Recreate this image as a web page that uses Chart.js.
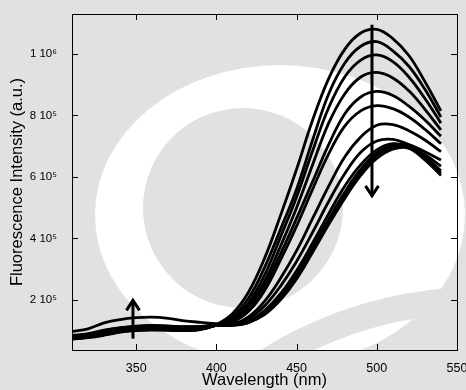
<!DOCTYPE html>
<html>
<head>
<meta charset="utf-8">
<script src="https://cdn.jsdelivr.net/npm/chart.js@4.4.1/dist/chart.umd.min.js"></script>
<style>
  html, body { margin: 0; padding: 0; background: #e1e1e1; }
  canvas { display: block; }
</style>
</head>
<body>
<canvas id="chart" width="466" height="390"></canvas>
<script>
/* global Chart */

// Emission spectra, intensities in units of 10^5 (a.u.)
const wavelengths = [310, 320, 330, 340, 350, 360, 370, 380, 390, 400, 410, 420, 430, 440, 450, 460, 470, 480, 490, 500, 510, 520, 530, 540];

const scan1  = [0.72, 0.77, 0.85, 0.95, 1.00, 1.02, 1.01, 1.00, 1.03, 1.20, 1.55, 2.25, 3.35, 4.75, 6.25, 7.85, 9.20, 10.15, 10.68, 10.80, 10.50, 9.95, 9.10, 8.15];
const scan2  = [0.73, 0.78, 0.87, 0.96, 1.02, 1.03, 1.02, 1.01, 1.04, 1.19, 1.45, 2.05, 3.05, 4.30, 5.60, 7.20, 8.70, 9.70, 10.25, 10.40, 10.10, 9.60, 8.85, 7.95];
const scan3  = [0.74, 0.79, 0.88, 0.98, 1.03, 1.05, 1.04, 1.03, 1.05, 1.18, 1.40, 1.90, 2.80, 4.05, 5.35, 6.85, 8.25, 9.25, 9.80, 9.97, 9.75, 9.25, 8.55, 7.75];
const scan4  = [0.75, 0.80, 0.90, 0.99, 1.05, 1.06, 1.05, 1.04, 1.06, 1.18, 1.35, 1.80, 2.60, 3.75, 5.00, 6.40, 7.75, 8.70, 9.25, 9.40, 9.22, 8.80, 8.20, 7.53];
const scan5  = [0.76, 0.82, 0.91, 1.01, 1.06, 1.08, 1.07, 1.06, 1.08, 1.17, 1.30, 1.70, 2.45, 3.50, 4.65, 5.85, 7.05, 8.05, 8.60, 8.78, 8.65, 8.30, 7.85, 7.32];
const scan6  = [0.78, 0.83, 0.93, 1.02, 1.08, 1.09, 1.08, 1.07, 1.09, 1.17, 1.28, 1.62, 2.30, 3.30, 4.40, 5.60, 6.75, 7.65, 8.15, 8.32, 8.22, 7.95, 7.55, 7.08];
const scan7  = [0.79, 0.84, 0.95, 1.04, 1.09, 1.11, 1.10, 1.08, 1.10, 1.17, 1.22, 1.45, 1.95, 2.70, 3.60, 4.65, 5.70, 6.65, 7.30, 7.68, 7.70, 7.50, 7.20, 6.82];
const scan8  = [0.80, 0.86, 0.96, 1.05, 1.11, 1.12, 1.11, 1.10, 1.11, 1.17, 1.20, 1.38, 1.80, 2.45, 3.25, 4.20, 5.20, 6.10, 6.80, 7.17, 7.22, 7.05, 6.82, 6.55];
const scan9  = [0.81, 0.87, 0.98, 1.07, 1.12, 1.14, 1.13, 1.11, 1.12, 1.17, 1.18, 1.30, 1.65, 2.20, 2.95, 3.85, 4.80, 5.70, 6.40, 6.88, 7.08, 7.00, 6.72, 6.35];
const scan10 = [0.83, 0.88, 1.00, 1.08, 1.14, 1.15, 1.14, 1.12, 1.13, 1.17, 1.17, 1.27, 1.58, 2.10, 2.80, 3.70, 4.62, 5.50, 6.25, 6.78, 7.02, 6.98, 6.65, 6.20];
const scan11 = [0.84, 0.90, 1.02, 1.10, 1.15, 1.17, 1.15, 1.13, 1.14, 1.18, 1.18, 1.26, 1.55, 2.05, 2.72, 3.62, 4.52, 5.40, 6.15, 6.70, 6.96, 6.95, 6.60, 6.12];
const scan12 = [0.97, 1.06, 1.25, 1.36, 1.42, 1.44, 1.40, 1.32, 1.27, 1.23, 1.20, 1.27, 1.52, 2.00, 2.68, 3.55, 4.45, 5.30, 6.05, 6.60, 6.90, 6.93, 6.55, 6.05];

const scans = [scan1, scan2, scan3, scan4, scan5, scan6, scan7, scan8, scan9, scan10, scan11, scan12];

const xTicks = [350, 400, 450, 500, 550];
const yTicks = [2, 4, 6, 8, 10];
const yTickLabels = ['2 10\u2075', '4 10\u2075', '6 10\u2075', '8 10\u2075', '1 10\u2076'];

// titration arrows: wavelength, start and end intensity
const arrowX = [497, 348];
const arrowFrom = [10.95, 0.74];
const arrowTo = [5.32, 2.05];

const FONT = "'Liberation Sans', Arial, sans-serif";

const watermark = {
  id: 'watermark',
  beforeDraw(chart) {
    const { ctx, width, height, chartArea } = chart;
    const gray = '#e1e1e1';
    ctx.save();
    ctx.fillStyle = gray;
    ctx.fillRect(0, 0, width, height);
    // faint logo behind the plot
    ctx.save();
    ctx.beginPath();
    ctx.rect(0, 0, width, chartArea.bottom);
    ctx.clip();
    ctx.fillStyle = '#ffffff';
    ctx.beginPath();
    ctx.ellipse(280, 215, 185, 150, 0, 0, Math.PI * 2);
    ctx.fill();
    ctx.restore();
    ctx.fillStyle = gray;
    ctx.beginPath();
    ctx.arc(243, 208, 100, 0, Math.PI * 2);
    ctx.fill();
    ctx.strokeStyle = gray;
    ctx.lineWidth = 26;
    ctx.beginPath();
    ctx.arc(480, 700, 400, -2.25, -1.35);
    ctx.stroke();
    ctx.restore();
  },
};

// box frame with inward tick marks on all four sides
const frameTicks = {
  id: 'frameTicks',
  afterDraw(chart) {
    const { ctx, chartArea: a } = chart;
    const xs = chart.scales.x;
    const ys = chart.scales.y;
    ctx.save();
    ctx.strokeStyle = '#000';
    ctx.lineWidth = 1;
    ctx.strokeRect(Math.round(a.left) + 0.5, Math.round(a.top) + 0.5, Math.round(a.right - a.left), Math.round(a.bottom - a.top));
    ctx.beginPath();
    xs.ticks.forEach((t) => {
      const x = Math.round(xs.getPixelForValue(t.value)) + 0.5;
      ctx.moveTo(x, a.bottom);
      ctx.lineTo(x, a.bottom - 6);
      ctx.moveTo(x, a.top);
      ctx.lineTo(x, a.top + 6);
    });
    ys.ticks.forEach((t) => {
      const y = Math.round(ys.getPixelForValue(t.value)) + 0.5;
      ctx.moveTo(a.left, y);
      ctx.lineTo(a.left + 6, y);
      ctx.moveTo(a.right, y);
      ctx.lineTo(a.right - 6, y);
    });
    ctx.stroke();
    ctx.restore();
  },
};

const arrows = {
  id: 'arrows',
  afterDatasetsDraw(chart) {
    const { ctx } = chart;
    const xs = chart.scales.x;
    const ys = chart.scales.y;
    ctx.save();
    ctx.strokeStyle = '#000';
    ctx.lineWidth = 3;
    ctx.lineCap = 'butt';
    ctx.lineJoin = 'miter';
    for (let i = 0; i < arrowX.length; i++) {
      const x = xs.getPixelForValue(arrowX[i]);
      const y0 = ys.getPixelForValue(arrowFrom[i]);
      const y1 = ys.getPixelForValue(arrowTo[i]);
      const dir = y1 > y0 ? 1 : -1;
      ctx.beginPath();
      ctx.moveTo(x, y0);
      ctx.lineTo(x, y1 - dir * 2);
      ctx.stroke();
      ctx.beginPath();
      ctx.moveTo(x - 6.5, y1 - dir * 12);
      ctx.lineTo(x, y1 - dir * 2);
      ctx.lineTo(x + 6.5, y1 - dir * 12);
      ctx.stroke();
    }
    ctx.restore();
  },
};

const noGrid = { display: false, drawTicks: false, tickLength: 0 };
const edgeBorder = { display: true, color: '#000', width: 1 };

function setXTicks(scale) {
  scale.ticks = xTicks.map((v) => ({ value: v }));
}
function setYTicks(scale) {
  scale.ticks = yTicks.map((v) => ({ value: v }));
}

new Chart(document.getElementById('chart'), {
  type: 'line',
  data: {
    datasets: scans.map((s) => ({
      data: wavelengths.map((w, i) => ({ x: w, y: s[i] })),
      borderColor: '#000',
      borderWidth: 2.8,
      pointRadius: 0,
      tension: 0.4,
      fill: false,
    })),
  },
  options: {
    responsive: false,
    animation: false,
    devicePixelRatio: 1,
    layout: { padding: { left: 0, top: 14, right: 9, bottom: 0 } },
    plugins: { legend: { display: false }, tooltip: { enabled: false } },
    scales: {
      x: {
        type: 'linear',
        position: 'bottom',
        min: 310,
        max: 550,
        afterBuildTicks: setXTicks,
        afterFit(scale) {
          scale.height = 40;
          scale.paddingLeft = 0;
          scale.paddingRight = 0;
        },
        grid: noGrid,
        border: edgeBorder,
        ticks: { color: '#000', font: { family: FONT, size: 12.5 }, padding: 11, maxRotation: 0, autoSkip: false, callback: (v) => String(v) },
        title: { display: true, text: 'Wavelength (nm)', color: '#000', font: { family: FONT, size: 16.5 }, padding: { top: 0, bottom: 0 } },
      },
      y: {
        type: 'linear',
        position: 'left',
        min: 0.37,
        max: 11.3,
        afterBuildTicks: setYTicks,
        afterFit(scale) {
          scale.width = 72;
          scale.paddingTop = 0;
          scale.paddingBottom = 0;
        },
        grid: noGrid,
        border: edgeBorder,
        ticks: { color: '#000', font: { family: FONT, size: 11.5 }, padding: 15, callback: (v) => yTickLabels[yTicks.indexOf(v)] },
        title: { display: true, text: 'Fluorescence Intensity (a.u.)', color: '#000', font: { family: FONT, size: 16.5 }, padding: { top: 8, bottom: 0 } },
      },
    },
  },
  plugins: [watermark, arrows, frameTicks],
});
</script>
</body>
</html>
